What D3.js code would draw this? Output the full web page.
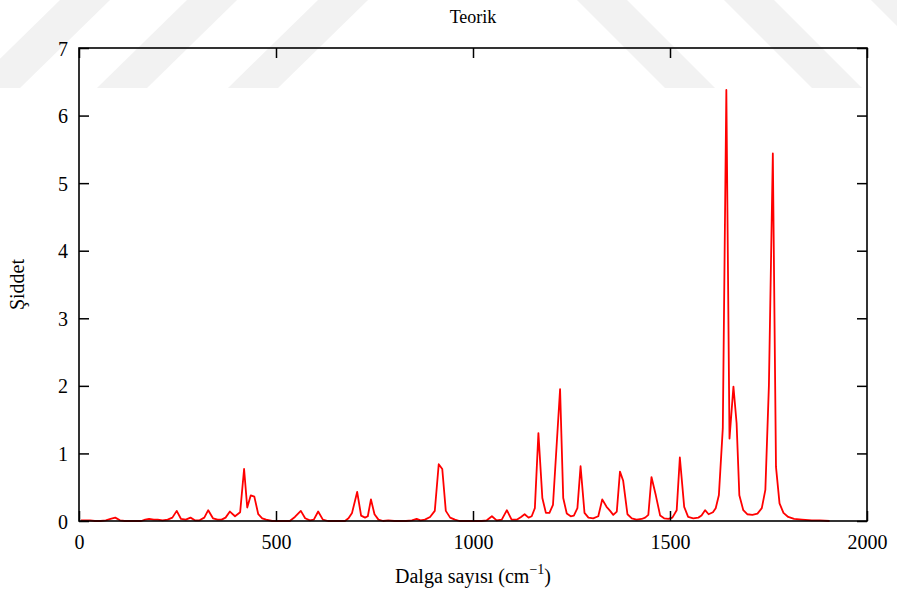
<!DOCTYPE html>
<html>
<head>
<meta charset="utf-8">
<script src="https://cdn.jsdelivr.net/npm/d3@7"></script>
<style>
  html, body { margin: 0; padding: 0; background: #fff; }
  svg { display: block; }
  text { font-family: "Liberation Serif", "DejaVu Serif", serif; fill: #000; }
</style>
</head>
<body>
<svg id="chart" width="897" height="595"></svg>
<script>
// ---- data ----
const wavenumbers = [5,15,28,40,55,68,80,92,104,116,130,145,158,168,178,190,200,212,225,237,248,259,271,283,294,306,318,328,340,352,362,372,383,396,409,419,427,436,445,455,465,475,490,505,520,535,548,563,574,586,596,607,619,632,648,662,675,684,693,706,716,726,733,741,750,760,772,785,800,815,830,845,857,867,878,891,903,913,922,931,942,954,966,980,995,1010,1022,1035,1048,1060,1073,1086,1098,1111,1122,1131,1141,1149,1157,1166,1176,1185,1194,1203,1221,1229,1238,1248,1256,1265,1273,1283,1293,1305,1318,1328,1339,1348,1356,1365,1373,1381,1392,1403,1415,1428,1437,1445,1453,1464,1475,1485,1496,1506,1517,1525,1536,1546,1559,1572,1580,1589,1598,1609,1616,1624,1634,1643,1651,1661,1669,1676,1686,1696,1709,1722,1733,1742,1751,1761,1769,1778,1788,1800,1815,1835,1860,1880,1905];
const intensities = [0.01,0.01,0.01,0,0,0.01,0.03,0.05,0.01,0,0,0,0,0.02,0.03,0.02,0.02,0.01,0.02,0.05,0.15,0.03,0.02,0.05,0.01,0.01,0.05,0.16,0.04,0.02,0.02,0.05,0.14,0.07,0.13,0.77,0.20,0.38,0.36,0.10,0.04,0.02,0,0,0,0,0.06,0.15,0.04,0.01,0.02,0.14,0.02,0,0,0,0,0.04,0.12,0.43,0.08,0.05,0.07,0.32,0.10,0.02,0,0.01,0,0,0,0.01,0.03,0.01,0.02,0.06,0.15,0.84,0.77,0.15,0.05,0.02,0,0,0,0,0,0.01,0.07,0.01,0.02,0.16,0.02,0.02,0.06,0.10,0.05,0.07,0.19,1.30,0.34,0.12,0.12,0.24,1.95,0.34,0.11,0.07,0.08,0.19,0.81,0.12,0.05,0.04,0.07,0.32,0.21,0.15,0.09,0.14,0.73,0.60,0.10,0.04,0.02,0.03,0.05,0.09,0.65,0.38,0.08,0.04,0.03,0.05,0.16,0.94,0.21,0.06,0.04,0.05,0.08,0.16,0.10,0.13,0.19,0.38,1.37,6.38,1.22,1.99,1.45,0.38,0.16,0.10,0.09,0.11,0.19,0.46,2.0,5.44,0.80,0.26,0.12,0.06,0.03,0.02,0.01,0.01,0];
const xTicks = [0, 500, 1000, 1500, 2000];
const yTicks = [0, 1, 2, 3, 4, 5, 6, 7];
const titleText = "Teorik";
const xLabel = "Dalga sayısı (cm";
const xLabelSup = "−1";
const yLabel = "Şiddet";

// ---- layout ----
const L = 79, R = 867, T = 48, B = 521;
const svg = d3.select("#chart");

// faint watermark bands
const wm = svg.append("g").attr("fill", "#f2f2f2");
[-30, 97, 228].forEach(x0 => {
  wm.append("polygon").attr("points", `${x0},88 ${x0+50},88 ${x0+140},0 ${x0+90},0`);
});
[577, 724, 871].forEach(x0 => {
  wm.append("polygon").attr("points", `${x0},0 ${x0+50},0 ${x0+138},88 ${x0+88},88`);
});

const x = d3.scaleLinear().domain([0, 2000]).range([L, R]);
const y = d3.scaleLinear().domain([0, 7]).range([B, T]);

const data = wavenumbers.map((w, i) => ({ w, v: intensities[i] }));

// line
svg.append("path")
  .datum(data)
  .attr("fill", "none")
  .attr("stroke", "#ff0000")
  .attr("stroke-width", 1.8)
  .attr("stroke-linejoin", "round")
  .attr("d", d3.line().x(d => x(d.w)).y(d => y(d.v)));

// axes with inward ticks
const tickLen = 10;
const fs = 20;
const xb = svg.append("g").attr("transform", `translate(0,${B})`)
  .call(d3.axisBottom(x).tickValues(xTicks).tickSizeInner(-tickLen).tickSizeOuter(0).tickPadding(16).tickFormat(d3.format("d")));
const xt = svg.append("g").attr("transform", `translate(0,${T})`)
  .call(d3.axisTop(x).tickValues(xTicks).tickSizeInner(-tickLen).tickSizeOuter(0).tickFormat(""));
const yl = svg.append("g").attr("transform", `translate(${L},0)`)
  .call(d3.axisLeft(y).tickValues(yTicks).tickSizeInner(-tickLen).tickSizeOuter(0).tickPadding(11).tickFormat(d3.format("d")));
const yr = svg.append("g").attr("transform", `translate(${R},0)`)
  .call(d3.axisRight(y).tickValues(yTicks).tickSizeInner(-tickLen).tickSizeOuter(0).tickFormat(""));

[xb, xt, yl, yr].forEach(g => {
  g.select(".domain").remove();
  g.selectAll("line").attr("stroke", "#000").attr("stroke-width", 1.5);
  g.selectAll("text").attr("font-family", "Liberation Serif, serif").attr("font-size", fs).attr("fill", "#000");
});
xb.selectAll("text").attr("dy", "0.6em");
yl.selectAll("text").attr("dy", "0.35em");

// frame
svg.append("rect")
  .attr("x", L).attr("y", T).attr("width", R - L).attr("height", B - T)
  .attr("fill", "none").attr("stroke", "#000").attr("stroke-width", 1.6);

// title
svg.append("text").attr("x", (L + R) / 2).attr("y", 23)
  .attr("text-anchor", "middle").attr("font-size", 18).text(titleText);

// x label
const xl = svg.append("text").attr("x", (L + R) / 2).attr("y", 583)
  .attr("text-anchor", "middle").attr("font-size", fs);
xl.append("tspan").text(xLabel);
xl.append("tspan").attr("font-size", 14).attr("dy", -9).text(xLabelSup);
xl.append("tspan").attr("dy", 9).text(")");

// y label
svg.append("text")
  .attr("transform", `translate(24,${(T + B) / 2}) rotate(-90)`)
  .attr("text-anchor", "middle").attr("font-size", fs).text(yLabel);
</script>
</body>
</html>
